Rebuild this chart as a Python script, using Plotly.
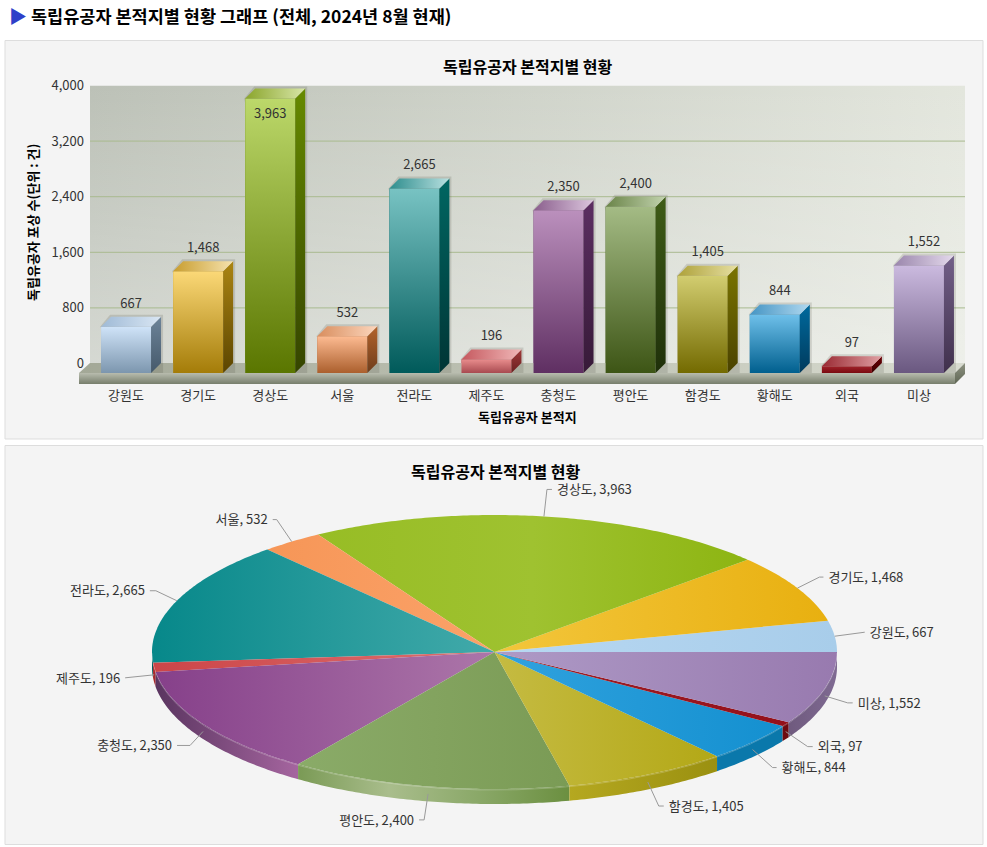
import numpy as np
import plotly.graph_objects as go

# ---------- data ----------
categories = ["강원도", "경기도", "경상도", "서울", "전라도", "제주도", "충청도", "평안도", "함경도", "황해도", "외국", "미상"]
counts = [667, 1468, 3963, 532, 2665, 196, 2350, 2400, 1405, 844, 97, 1552]
y_ticks = [0, 800, 1600, 2400, 3200, 4000]
page_title = "독립유공자 본적지별 현황 그래프 (전체, 2024년 8월 현재)"
chart_title = "독립유공자 본적지별 현황"
x_title = "독립유공자 본적지"
y_title = "독립유공자 포상 수(단위 : 건)"

# ---------- style ----------
W, H = 987, 847
FONT = "Noto Sans CJK KR"
TXT = "#333333"
# (front top, front bottom, side top, side bottom, top-face left, top-face right)
bar_styles = [
    ("#cfe3f8", "#7c96ae", "#6d8499", "#45596b", "#9fbad6", "#d9e6f3"),
    ("#fbd877", "#a47c08", "#ab8512", "#5c4500", "#c89d2e", "#f5e2ae"),
    ("#bcd86a", "#5a7600", "#668a00", "#354500", "#8aa52b", "#d8e6a8"),
    ("#fdbb92", "#ab5f2d", "#b3632c", "#6e3d1c", "#d98e5e", "#fcd6bd"),
    ("#78c3c3", "#005a5a", "#006662", "#003535", "#2d8d8d", "#b8e0e0"),
    ("#e88c8c", "#a84a50", "#a03a3a", "#6a2020", "#c5585e", "#f0b8b8"),
    ("#bb90bd", "#5f2f62", "#5c2e62", "#371a38", "#8a5e8c", "#dcc6de"),
    ("#a4bb85", "#3d5515", "#3f5c17", "#1f300a", "#6a8448", "#c2d3ae"),
    ("#d2cd70", "#736a00", "#7a7400", "#4a4200", "#aea23a", "#e6dfa2"),
    ("#6fc0ea", "#005f8e", "#006a9e", "#003a5c", "#4595c4", "#b0d8ef"),
    ("#a0222a", "#7a0a10", "#6e0005", "#3a0000", "#9a2a33", "#e0a0a3"),
    ("#cbbadf", "#6a5880", "#725f88", "#40304c", "#9a86ac", "#e4d9ec"),
]
# horizontal colour stops, left to right, for each slice's upper face
pie_top = [
    ["#b8d8f2", "#a8cdea"],
    ["#f3c63c", "#e8b010"],
    ["#97bd25", "#9fc230", "#8db512"],
    ["#f69657", "#fba269"],
    ["#07888a", "#42aaaa"],
    ["#cc4548", "#dc7070"],
    ["#86408a", "#ac76a9"],
    ["#8aab68", "#83a35f", "#7a9b55"],
    ["#c5bb42", "#b3a816"],
    ["#30a2de", "#1490d0"],
    ["#a02028", "#94101a"],
    ["#ae9ac6", "#987aaf"],
]
# horizontal colour stops, left to right, for each slice's rim
pie_side = [
    ["#8fb0cc", "#8fb0cc"],
    ["#b48c0c", "#b48c0c"],
    ["#6d8c0e", "#6d8c0e"],
    ["#c0743e", "#c0743e"],
    ["#045f61", "#04585a"],
    ["#a8282c", "#a8282c"],
    ["#5a3560", "#a5659f"],
    ["#7a9a55", "#a9bd8c", "#8aa868", "#6b8f40"],
    ["#b5a820", "#9a9010"],
    ["#0a78ab", "#0a78ab"],
    ["#6e0a10", "#6e0a10"],
    ["#6f5a7e", "#7f6a92"],
]
# pixel offsets of leader elbow and end from the rim anchor, text side
leader_offsets = [
    (30, -4, 30, -4, "r"), (22, -11, 26, -11, "r"), (3, -27, 8, -27, "r"),
    (-15, -22, -19, -22, "l"), (-21, -10, -27, -10, "l"), (-29, 3, -29, 3, "l"),
    (-13, 14, -26, 14, "l"), (-4, 26, -9, 26, "l"), (11, 24, 16, 24, "r"),
    (20, 18, 24, 18, "r"), (22, 15, 27, 15, "r"), (23, 7, 28, 7, "r"),
]

PLATE_L, PLATE_R, WALL_R = 79, 955, 965
BASE_Y, PLATE_B, WALL_T, WALL_B = 373, 384, 85.5, 363.5
CELL_L, CELL_R = 90, 955
TOP_FRONT = 96
CX, CY, RX, RY, DEPTH = 494.5, 652, 342.5, 137, 15


def dom_x(a, b):
    return [a / W, b / W]


def dom_y(top, bottom):
    return [1 - bottom / H, 1 - top / H]


def stops(cols):
    return [[i / (len(cols) - 1), c] for i, c in enumerate(cols)]


def poly(xs, ys, cols, kind, xa, ya):
    return go.Scatter(
        x=xs, y=ys, mode="none", fill="toself",
        fillgradient=dict(type=kind, colorscale=stops(cols)),
        xaxis=xa, yaxis=ya, hoverinfo="skip", showlegend=False,
    )


fig = go.Figure()

# ---------- back wall (subplot 1) ----------
fig.add_trace(poly([0, 1, 1, 0, 0], [0, 0, 4000, 4000, 0], ["#bcc1b7", "#e3e6dd"], "horizontal", "x", "y"))
fig.add_trace(poly([0, 1, 1, 0, 0], [0, 0, 4000, 4000, 0],
                   ["rgba(255,255,255,0.38)", "rgba(255,255,255,0)"], "vertical", "x", "y"))
grid_x, grid_y = [], []
for t in y_ticks[1:-1]:
    grid_x += [0, 1, None]
    grid_y += [t, t, None]
fig.add_trace(go.Scatter(x=grid_x, y=grid_y, mode="lines", line=dict(color="#a9ba8f", width=1),
                         xaxis="x", yaxis="y", hoverinfo="skip", showlegend=False))

# ---------- bars (subplot 2) ----------
ux = 1 / ((CELL_R - CELL_L) / len(categories))     # x units per pixel
uy = 4000 / (BASE_Y - TOP_FRONT)                   # y units per pixel
dx, dy = 10 * ux, 10 * uy
bw = 50 * ux
x_lo = -0.5 - (CELL_L - PLATE_L) * ux
x_hi = 11.5 + (WALL_R + 1 - CELL_R) * ux
y_lo = -(PLATE_B - BASE_Y) * uy
y_hi = 4000 + (TOP_FRONT - WALL_T + 0.5) * uy

# floor
fig.add_trace(poly([x_lo, 11.5, 11.5 + dx, x_lo + 11 * ux, x_lo], [0, 0, dy, dy, 0],
                   ["#a3a897", "#d8dbd0"], "horizontal", "x2", "y2"))
fig.add_trace(poly([x_lo, 11.5, 11.5, x_lo, x_lo], [y_lo, y_lo, 0, 0, y_lo],
                   ["#777e6c", "#b8bcae"], "vertical", "x2", "y2"))
fig.add_trace(poly([11.5, 11.5 + dx, 11.5 + dx, 11.5, 11.5], [y_lo, y_lo + dy, dy, 0, y_lo],
                   ["#5f6654", "#8e9382"], "vertical", "x2", "y2"))

positions = list(range(len(categories)))
fig.add_trace(go.Bar(
    x=positions, y=counts, width=bw, marker=dict(color=[s[1] for s in bar_styles], line=dict(width=0)),
    xaxis="x2", yaxis="y2", hoverinfo="skip", showlegend=False,
))
for i, (v, s) in enumerate(zip(counts, bar_styles)):
    l, r = i - bw / 2, i + bw / 2
    # soft shadow
    fig.add_trace(go.Scatter(
        x=[r + dx + 2 * ux, r + dx + 2 * ux, l + dx - ux, l - ux, r, r + dx + 2 * ux],
        y=[0, v + dy + 2 * uy, v + dy + 2 * uy, v, 0, 0], mode="none", fill="toself",
        fillcolor="rgba(70,70,60,0.17)", xaxis="x2", yaxis="y2", hoverinfo="skip", showlegend=False))
    fig.add_trace(poly([l, r, r, l, l], [0, 0, v, v, 0], [s[1], s[0]], "vertical", "x2", "y2"))
    fig.add_trace(poly([r, r + dx, r + dx, r, r], [0, dy, v + dy, v, 0], [s[3], s[2]], "vertical", "x2", "y2"))
    fig.add_trace(poly([l, r, r + dx, l + dx, l], [v, v, v + dy, v + dy, v], [s[4], s[5]], "horizontal", "x2", "y2"))

label_x, label_y = [], []
for i, v in enumerate(counts):
    if v + 23 * uy > 4000:
        label_x.append(i)
        label_y.append(v - 16.5 * uy)
    else:
        label_x.append(i + dx / 2)
        label_y.append(v + 22.5 * uy)
fig.add_trace(go.Scatter(
    x=label_x, y=label_y, mode="text", text=[f"{v:,}" for v in counts], textposition="middle center",
    textfont=dict(family=FONT, size=13, color=TXT), cliponaxis=False,
    xaxis="x2", yaxis="y2", hoverinfo="skip", showlegend=False))

# ---------- pie (subplot 3) ----------
total = sum(counts)
edges = np.cumsum([0] + counts) / total * 2 * np.pi
depth_u = DEPTH / RY


def arc(a0, a1):
    t = np.linspace(a0, a1, max(4, int(abs(a1 - a0) * 90)))
    return np.cos(t), np.sin(t)


# rims first
for i in range(len(counts)):
    a0, a1 = max(edges[i], np.pi), min(edges[i + 1], 2 * np.pi)
    if a1 <= a0:
        continue
    cx_, sy_ = arc(a0, a1)
    xs = np.concatenate([cx_, cx_[::-1], cx_[:1]])
    ys = np.concatenate([sy_, sy_[::-1] - depth_u, sy_[:1]])
    fig.add_trace(poly(xs.tolist(), ys.tolist(), pie_side[i], "horizontal", "x3", "y3"))

# upper faces
for i in range(len(counts)):
    cx_, sy_ = arc(edges[i], edges[i + 1])
    xs = np.concatenate([[0], cx_, [0]])
    ys = np.concatenate([[0], sy_, [0]])
    fig.add_trace(poly(xs.tolist(), ys.tolist(), pie_top[i], "horizontal", "x3", "y3"))

# rim highlight
cx_, sy_ = arc(np.pi, 2 * np.pi)
fig.add_trace(go.Scatter(x=cx_, y=sy_ - 1 / RY, mode="lines", line=dict(color="rgba(255,255,255,0.22)", width=1),
                         xaxis="x3", yaxis="y3", hoverinfo="skip", showlegend=False))

# leaders and labels
lx, ly, tx, ty, tp = [], [], [], [], []
for i, off in enumerate(leader_offsets):
    mid = (edges[i] + edges[i + 1]) / 2
    ax, ay = np.cos(mid), np.sin(mid)
    if np.sin(mid) < 0:
        ay -= depth_u / 2
    ex, ey = ax + off[0] / RX, ay - off[1] / RY
    fx, fy = ax + off[2] / RX, ay - off[3] / RY
    lx += [ax, ex, fx, None]
    ly += [ay, ey, fy, None]
    tx.append(fx + (5 if off[4] == "r" else -5) / RX)
    ty.append(fy - 1.5 / RY)
    tp.append("middle right" if off[4] == "r" else "middle left")
fig.add_trace(go.Scatter(x=lx, y=ly, mode="lines", line=dict(color="#999999", width=1),
                         xaxis="x3", yaxis="y3", hoverinfo="skip", showlegend=False))
fig.add_trace(go.Scatter(
    x=tx, y=ty, mode="text", text=[f"{c}, {v:,}" for c, v in zip(categories, counts)], textposition=tp,
    textfont=dict(family=FONT, size=13, color=TXT), xaxis="x3", yaxis="y3",
    hoverinfo="skip", showlegend=False))

# ---------- layout ----------
hidden = dict(visible=False, fixedrange=True, automargin=False)
panel = dict(type="rect", xref="paper", yref="paper", layer="below", fillcolor="#f4f4f4",
             line=dict(color="#dddddd", width=1))


def ann(text, px, py, size, bold=True, color="#000000", angle=0, xanchor="center"):
    return dict(text=f"<b>{text}</b>" if bold else text, x=px / W, y=1 - py / H, xref="paper", yref="paper",
                showarrow=False, xanchor=xanchor, yanchor="middle", textangle=angle,
                font=dict(family=FONT, size=size, color=color))


fig.update_layout(
    template=None,
    width=W, height=H, margin=dict(l=0, r=0, t=0, b=0), autosize=False,
    paper_bgcolor="#ffffff", plot_bgcolor="rgba(0,0,0,0)", barmode="overlay", showlegend=False,
    font=dict(family=FONT, size=13, color=TXT),
    xaxis=dict(domain=dom_x(CELL_L, WALL_R), range=[0, 1], anchor="y", **hidden),
    yaxis=dict(domain=dom_y(WALL_T, WALL_B), range=[0, 4000], anchor="x", tickvals=y_ticks, tickformat=",d",
               showgrid=False, zeroline=False, showline=False, ticks="", ticklabelstandoff=5, fixedrange=True,
               automargin=False, tickfont=dict(family=FONT, size=13, color=TXT)),
    xaxis2=dict(domain=dom_x(PLATE_L, WALL_R + 1), range=[x_lo, x_hi], anchor="y2", tickmode="array",
                tickvals=positions, ticktext=categories, showgrid=False, zeroline=False, showline=False,
                ticks="", ticklabelstandoff=2, fixedrange=True, automargin=False,
                tickfont=dict(family=FONT, size=13, color=TXT)),
    yaxis2=dict(domain=dom_y(WALL_T - 0.5, PLATE_B), range=[y_lo, y_hi], anchor="x2", **hidden),
    xaxis3=dict(domain=dom_x(5, 983), range=[(5 - CX) / RX, (983 - CX) / RX], anchor="y3", **hidden),
    yaxis3=dict(domain=dom_y(445, 845), range=[(CY - 845) / RY, (CY - 445) / RY], anchor="x3", **hidden),
    shapes=[
        dict(panel, x0=5 / W, x1=983 / W, y0=1 - 439 / H, y1=1 - 40.5 / H),
        dict(panel, x0=5 / W, x1=983 / W, y0=1 - 844.5 / H, y1=1 - 445.5 / H),
    ],
    annotations=[
        ann("▶", 18, 15, 18, bold=False, color="#2f3fc9"),
        ann(page_title, 29, 15, 17.5, xanchor="left"),
        ann(chart_title, 527, 66, 16),
        ann(chart_title, 495, 471, 16),
        ann(x_title, 527, 416, 13),
        ann(y_title, 32, 223, 13, angle=-90),
    ],
)

fig.write_html("out.html", config={"displayModeBar": False},
               post_script="document.body.style.margin='0';document.body.style.overflow='hidden';")
